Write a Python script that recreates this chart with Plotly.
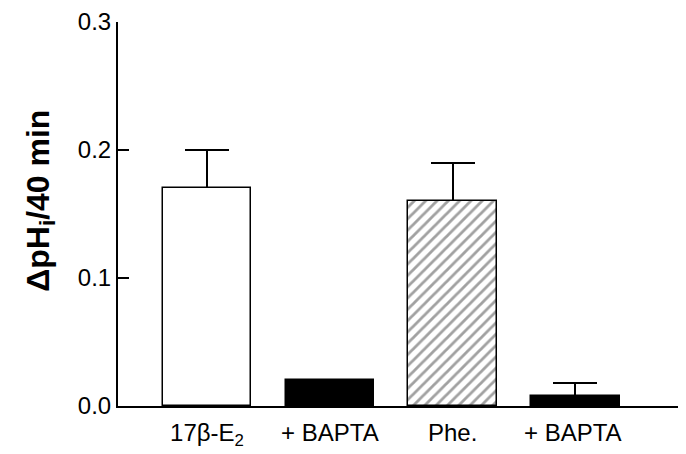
import plotly.graph_objects as go

categories = ["17β-E<sub>2</sub>", "+ BAPTA", "Phe.", "+ BAPTA "]
values = [0.17, 0.02, 0.16, 0.008]
errors = [0.03, 0.0, 0.03, 0.01]
fill_colors = ["white", "black", "white", "black"]
patterns = ["", "", "/", ""]
y_ticks = [0.0, 0.1, 0.2, 0.3]
y_tick_labels = ["0.0", "0.1", "0.2", "0.3"]

xpos = list(range(len(categories)))

fig = go.Figure()
# error bars drawn first (hidden bar), so the bars cover the lower cap
fig.add_trace(go.Bar(
    x=xpos, y=values, width=0.72,
    marker=dict(color="rgba(0,0,0,0)", line=dict(width=0)),
    error_y=dict(type="data", array=errors, arrayminus=[0]*4, symmetric=False,
                 color="black", thickness=2, width=22),
    showlegend=False, hoverinfo="skip",
))
fig.add_trace(go.Bar(
    x=xpos, y=values, width=0.72,
    marker=dict(
        color=fill_colors,
        line=dict(color="black", width=1.5),
        pattern=dict(shape=patterns, fgcolor="black", bgcolor="white",
                     size=8, solidity=0.35, fillmode="overlay"),
    ),
    showlegend=False,
))

fig.update_layout(
    width=686, height=454,
    margin=dict(l=110, r=8, t=14, b=56),
    paper_bgcolor="white", plot_bgcolor="white",
    font=dict(family="Liberation Sans, Arial", size=24, color="black"),
    barmode="overlay",
    bargap=0,
    xaxis=dict(
        range=[-0.725, 3.9],
        tickmode="array", tickvals=xpos, ticktext=categories,
        showline=True, linecolor="black", linewidth=2,
        ticks="", showgrid=False, zeroline=False,
        tickfont=dict(size=24), automargin=False, ticklabelstandoff=4,
    ),
    yaxis=dict(
        range=[0, 0.3],
        tickmode="array", tickvals=y_ticks, ticktext=y_tick_labels,
        showline=True, linecolor="black", linewidth=2,
        ticks="inside", ticklen=11, tickwidth=2, tickcolor="black",
        showgrid=False, zeroline=False,
        tickfont=dict(size=24), automargin=False,
        title=dict(text="&nbsp;&nbsp;&nbsp;<b>ΔpH<sub>i</sub>/40 min</b>", font=dict(size=32), standoff=19),
    ),
)

fig.write_html("out.html")
